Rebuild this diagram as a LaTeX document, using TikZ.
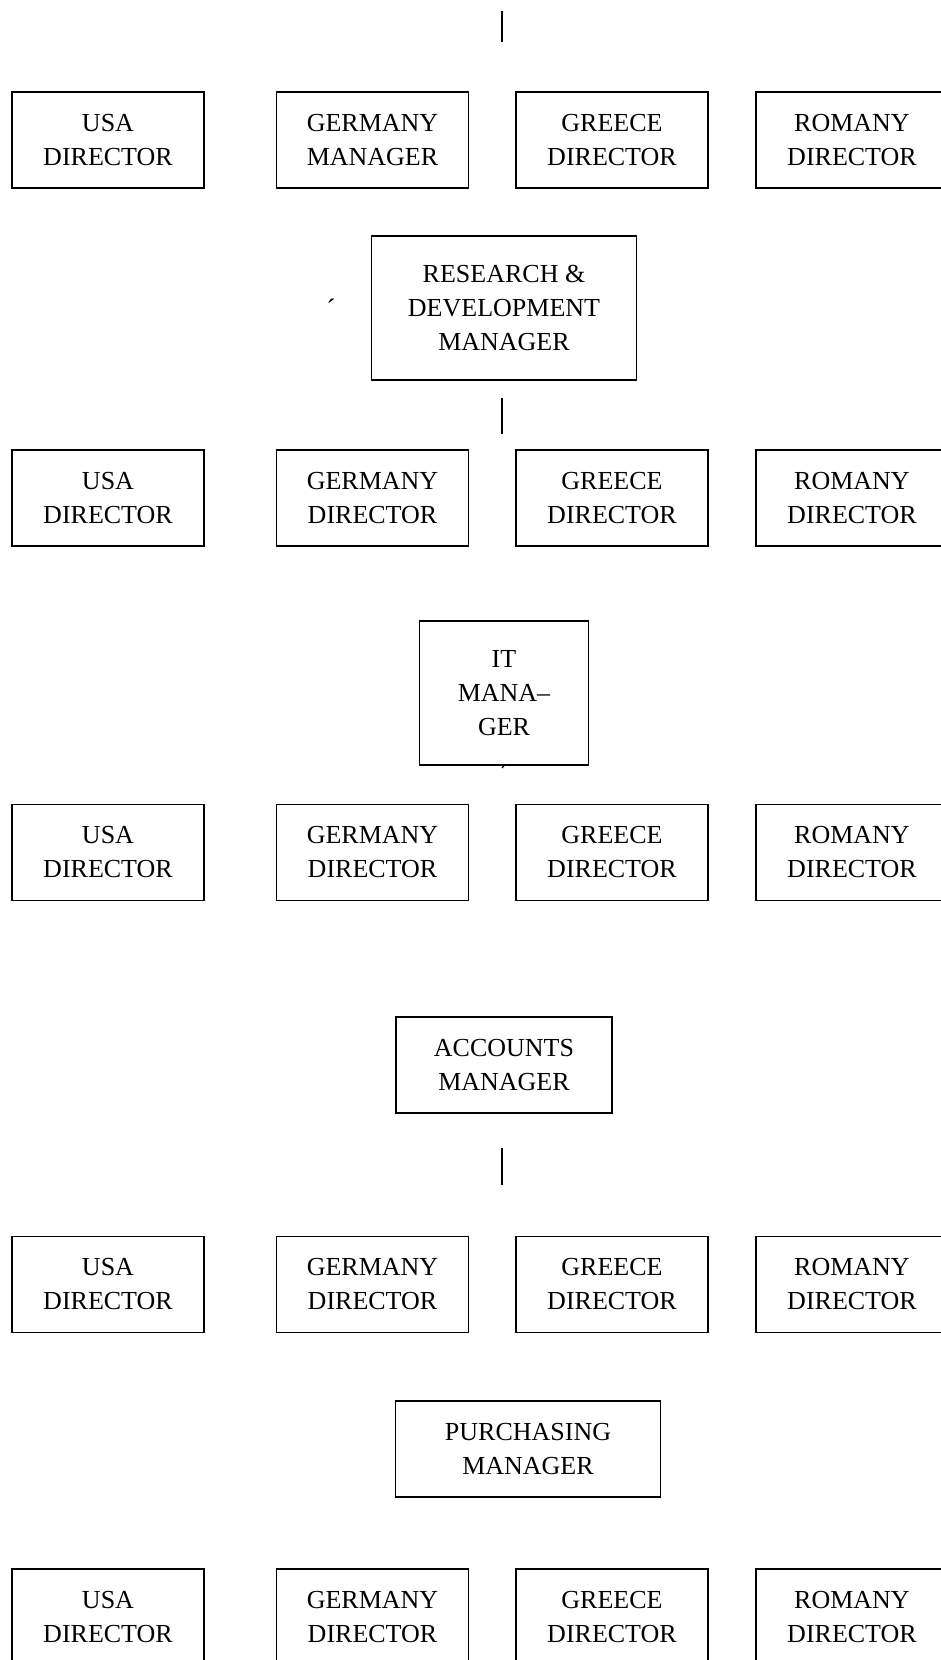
\documentclass[tikz,border=0pt]{standalone}
\usepackage{fontspec}
\setmainfont{Liberation Serif}
\begin{document}
\begin{tikzpicture}[x=1pt, y=-1pt,
    box/.style={draw, rectangle, line width=1.2pt, align=center, inner sep=0pt,
        font=\fontsize{26}{34}\selectfont},
    dir/.style={box, minimum width=192pt, minimum height=96pt},
    link/.style={line width=1.2pt}]
    \useasboundingbox (0,0) rectangle (941,1660);

    % Top stub
    \coordinate (t1) at (502,11);
    \coordinate (t2) at (502,42);
    \draw[link] (t1) -- (t2);

    % Row 1
    \node[dir] (usa1) at (108,140) {USA\\DIRECTOR};
    \node[dir] (ger1) at (372.5,140) {GERMANY\\MANAGER};
    \node[dir] (gre1) at (612,140) {GREECE\\DIRECTOR};
    \node[dir] (rom1) at (852,140) {ROMANY\\DIRECTOR};

    % Research & development
    \node[box, minimum width=264.5pt, minimum height=144pt] (rd) at (504,308)
        {RESEARCH \&\\DEVELOPMENT\\MANAGER};
    \node[font=\fontsize{28}{34}\selectfont] (tick) at (331,309) {´};
    \coordinate (rd1) at (502,398);
    \coordinate (rd2) at (502,434);
    \draw[link] (rd1) -- (rd2);

    % Row 2
    \node[dir] (usa2) at (108,498) {USA\\DIRECTOR};
    \node[dir] (ger2) at (372.5,498) {GERMANY\\DIRECTOR};
    \node[dir] (gre2) at (612,498) {GREECE\\DIRECTOR};
    \node[dir] (rom2) at (852,498) {ROMANY\\DIRECTOR};

    % IT
    \node[box, minimum width=168.5pt, minimum height=144pt] (it) at (504,693)
        {IT\\MANA–\\GER};
    \coordinate (it1) at (502,768);
    \draw[link] (it.south) -- (it1);

    % Row 3
    \node[dir] (usa3) at (108,852.5) {USA\\DIRECTOR};
    \node[dir] (ger3) at (372.5,852.5) {GERMANY\\DIRECTOR};
    \node[dir] (gre3) at (612,852.5) {GREECE\\DIRECTOR};
    \node[dir] (rom3) at (852,852.5) {ROMANY\\DIRECTOR};

    % Accounts
    \node[box, minimum width=216pt, minimum height=96pt] (acc) at (504,1065)
        {ACCOUNTS\\MANAGER};
    \coordinate (acc1) at (502,1148);
    \coordinate (acc2) at (502,1185);
    \draw[link] (acc1) -- (acc2);

    % Row 4
    \node[dir] (usa4) at (108,1284.5) {USA\\DIRECTOR};
    \node[dir] (ger4) at (372.5,1284.5) {GERMANY\\DIRECTOR};
    \node[dir] (gre4) at (612,1284.5) {GREECE\\DIRECTOR};
    \node[dir] (rom4) at (852,1284.5) {ROMANY\\DIRECTOR};

    % Purchasing
    \node[box, minimum width=264.5pt, minimum height=96pt] (pur) at (528,1449)
        {PURCHASING\\MANAGER};

    % Row 5
    \node[dir] (usa5) at (108,1617) {USA\\DIRECTOR};
    \node[dir] (ger5) at (372.5,1617) {GERMANY\\DIRECTOR};
    \node[dir] (gre5) at (612,1617) {GREECE\\DIRECTOR};
    \node[dir] (rom5) at (852,1617) {ROMANY\\DIRECTOR};
\end{tikzpicture}
\end{document}
